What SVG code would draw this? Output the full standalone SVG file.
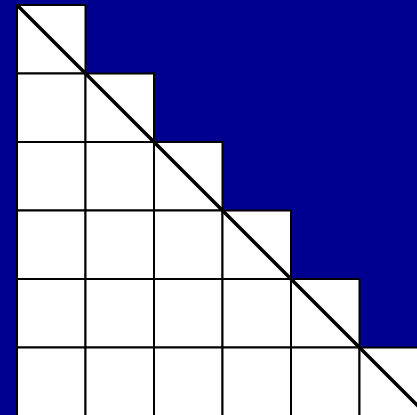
<svg xmlns="http://www.w3.org/2000/svg" width="417" height="415" viewBox="0 0 417 415">
<style>
.c{fill:#ffffff;stroke:#000000;stroke-width:2}
.d{stroke:#000000;stroke-width:3.5;fill:none}
</style>
<rect x="0" y="0" width="417" height="415" fill="#000090"/>
<g id="grid">
<rect class="c" x="17" y="5" width="68.5" height="68.5"/>
<rect class="c" x="17" y="73.5" width="68.5" height="68.5"/>
<rect class="c" x="85.5" y="73.5" width="68.5" height="68.5"/>
<rect class="c" x="17" y="142" width="68.5" height="68.5"/>
<rect class="c" x="85.5" y="142" width="68.5" height="68.5"/>
<rect class="c" x="154" y="142" width="68.5" height="68.5"/>
<rect class="c" x="17" y="210.5" width="68.5" height="68.5"/>
<rect class="c" x="85.5" y="210.5" width="68.5" height="68.5"/>
<rect class="c" x="154" y="210.5" width="68.5" height="68.5"/>
<rect class="c" x="222.5" y="210.5" width="68.5" height="68.5"/>
<rect class="c" x="17" y="279" width="68.5" height="68.5"/>
<rect class="c" x="85.5" y="279" width="68.5" height="68.5"/>
<rect class="c" x="154" y="279" width="68.5" height="68.5"/>
<rect class="c" x="222.5" y="279" width="68.5" height="68.5"/>
<rect class="c" x="291" y="279" width="68.5" height="68.5"/>
<rect class="c" x="17" y="347.5" width="68.5" height="68.5"/>
<rect class="c" x="85.5" y="347.5" width="68.5" height="68.5"/>
<rect class="c" x="154" y="347.5" width="68.5" height="68.5"/>
<rect class="c" x="222.5" y="347.5" width="68.5" height="68.5"/>
<rect class="c" x="291" y="347.5" width="68.5" height="68.5"/>
<rect class="c" x="359.5" y="347.5" width="68.5" height="68.5"/>
</g>
<g id="diagonal">
<line class="d" x1="17" y1="5" x2="430" y2="418"/>
</g>
</svg>
